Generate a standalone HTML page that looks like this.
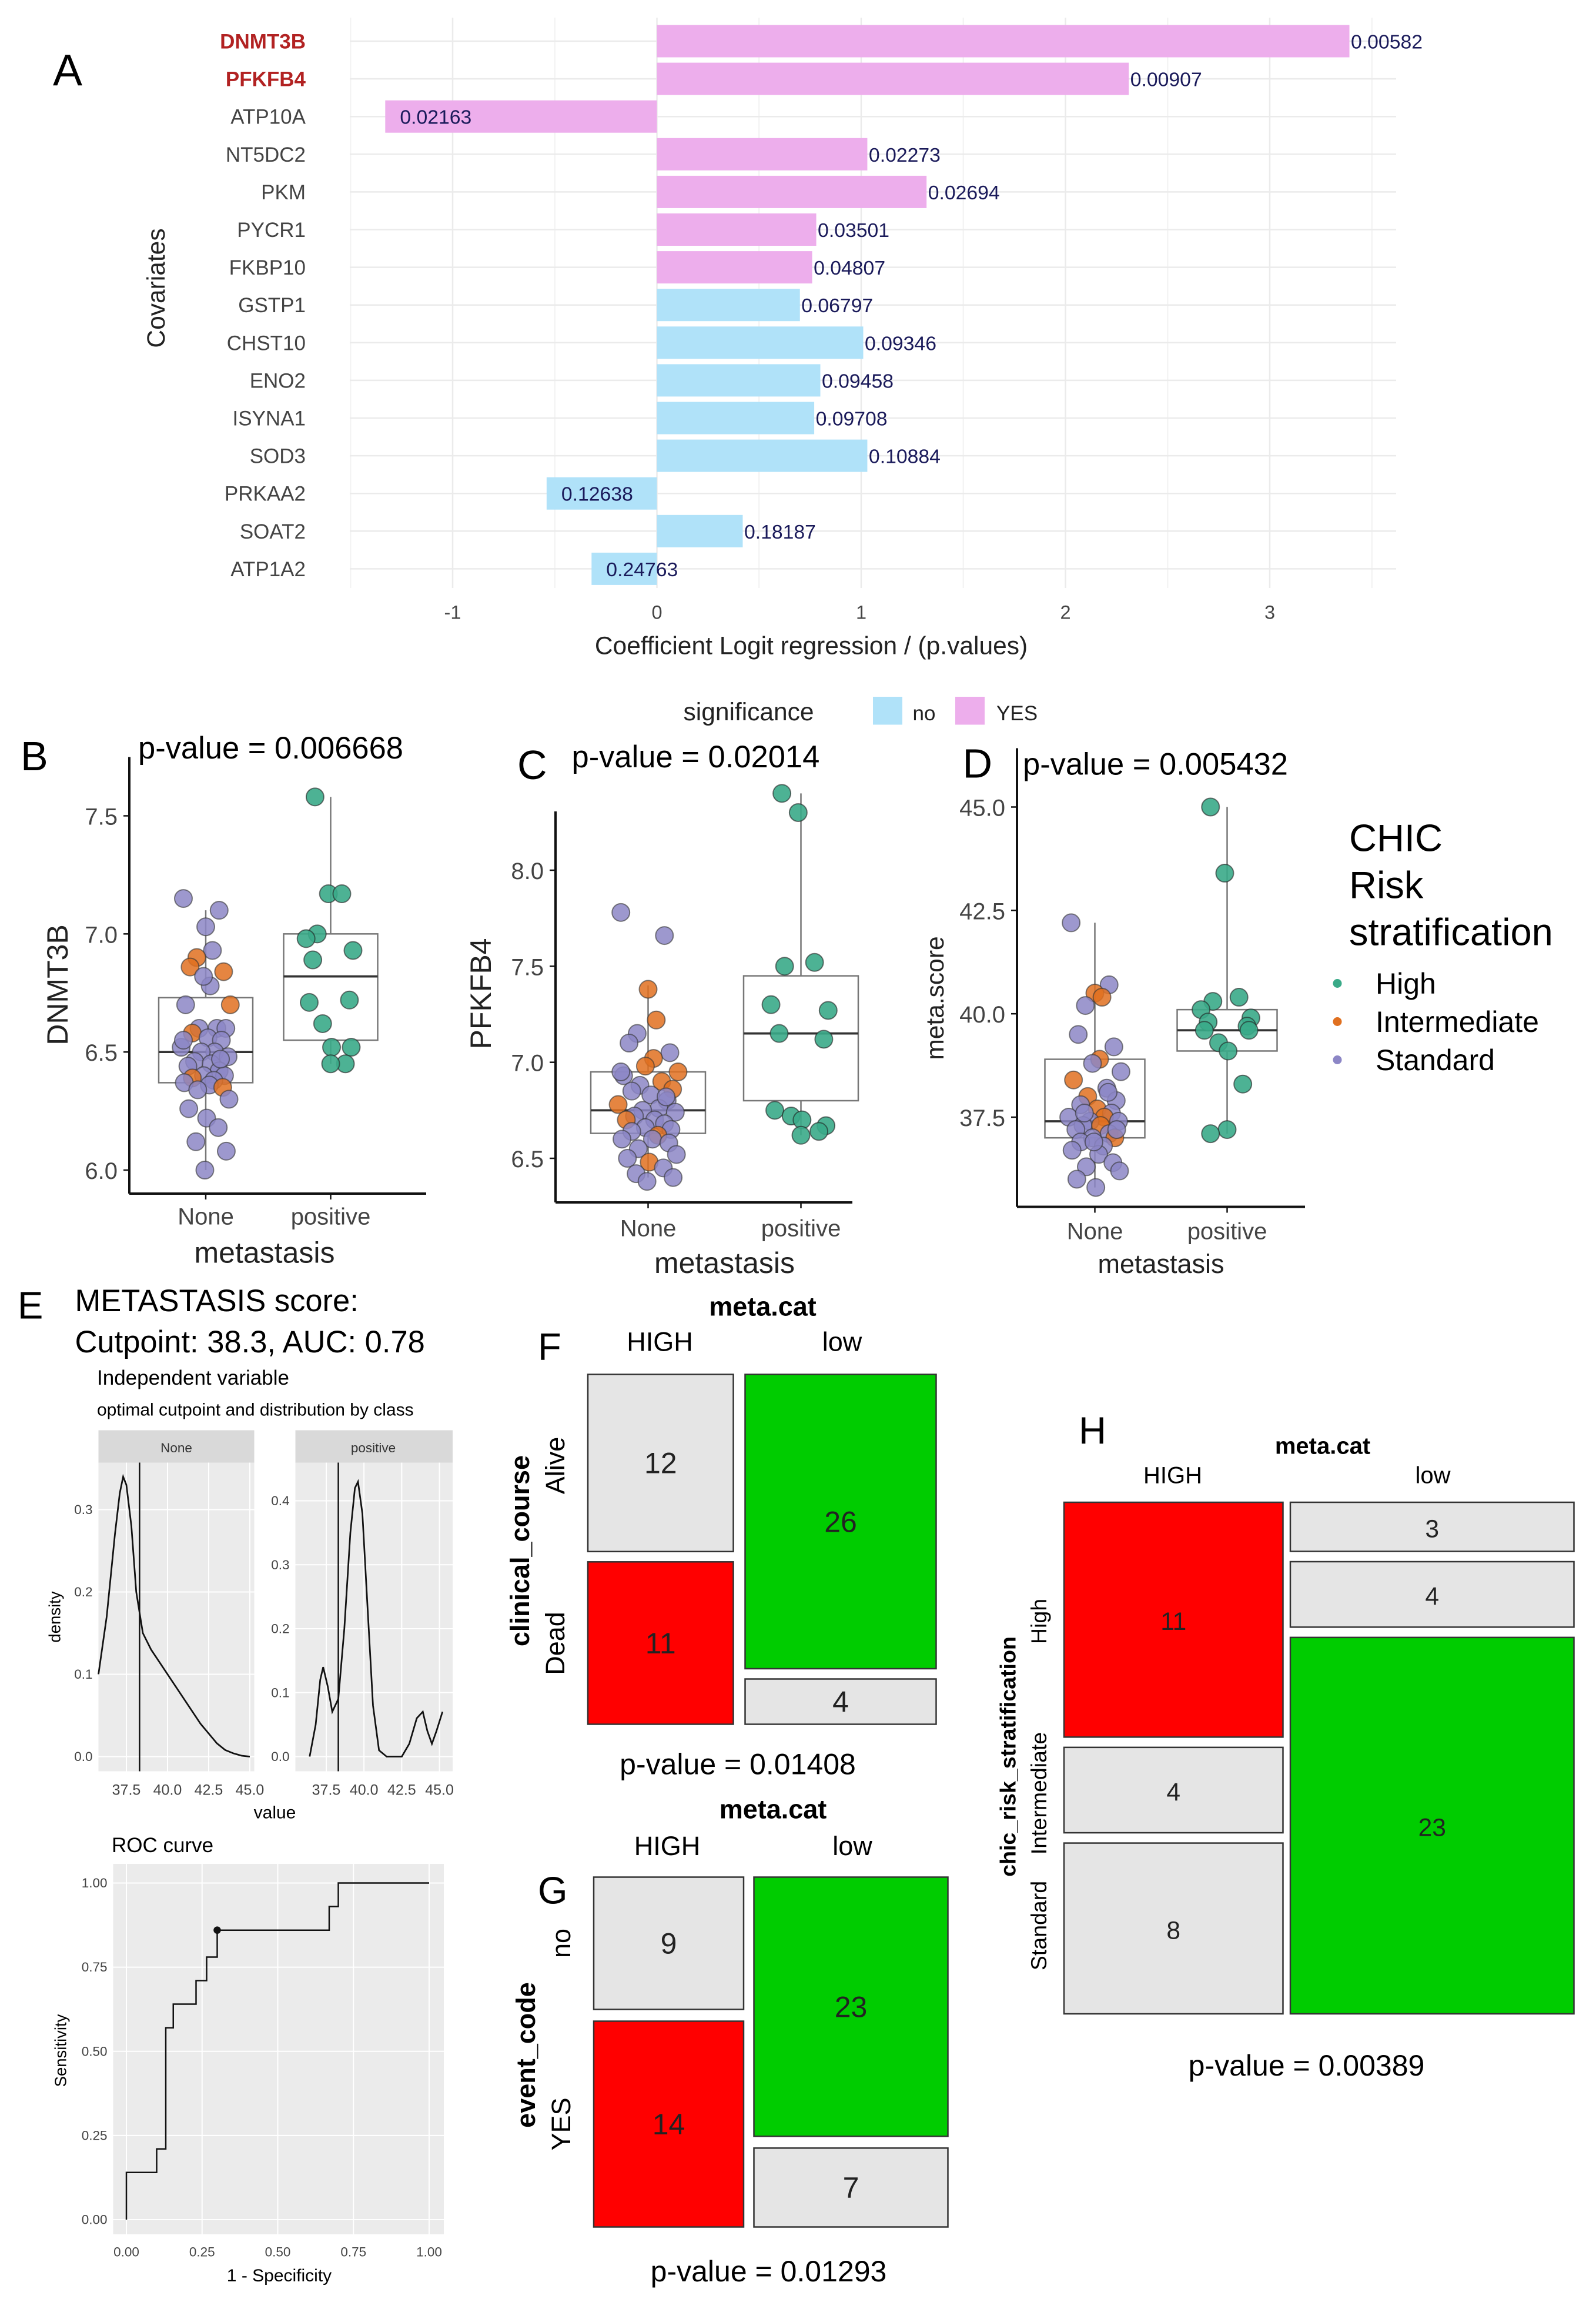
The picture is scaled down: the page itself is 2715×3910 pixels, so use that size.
<!DOCTYPE html>
<html><head><meta charset="utf-8"><style>
html,body{margin:0;padding:0;background:#fff}
svg{display:block;font-family:"Liberation Sans",Arial,sans-serif}
</style></head><body>
<svg id="fig" width="2715" height="3910" viewBox="0 0 1086 1564" preserveAspectRatio="none" xmlns="http://www.w3.org/2000/svg">
<rect x="0" y="0" width="1086" height="1564" fill="#fff"/>
<!-- Panel A static -->
<g id="panelA">
<text x="36" y="58" font-size="30">A</text>
<text x="0" y="0" font-size="17" fill="#222" transform="translate(112,196) rotate(-90)" text-anchor="middle">Covariates</text>
<text x="552" y="445" font-size="17" fill="#222" text-anchor="middle">Coefficient Logit regression / (p.values)</text>
<text x="465" y="490" font-size="17" fill="#222">significance</text>
<rect x="594" y="474" width="20" height="19" fill="#B0E2F9"/>
<text x="621" y="490" font-size="14" fill="#222">no</text>
<rect x="650" y="474" width="20" height="19" fill="#EDAEEC"/>
<text x="678" y="490" font-size="14" fill="#222">YES</text>
</g>
<g id="panelB">
<text x="14" y="524" font-size="28">B</text>
<text x="94" y="516" font-size="21">p-value = 0.006668</text>
<text transform="translate(46,670) rotate(-90)" font-size="20" fill="#222" text-anchor="middle">DNMT3B</text>
<text x="180" y="859" font-size="20" fill="#222" text-anchor="middle">metastasis</text>
</g>
<g id="panelC">
<text x="352" y="530" font-size="28">C</text>
<text x="389" y="522" font-size="21">p-value = 0.02014</text>
<text transform="translate(334,676) rotate(-90)" font-size="20" fill="#222" text-anchor="middle">PFKFB4</text>
<text x="493" y="866" font-size="20" fill="#222" text-anchor="middle">metastasis</text>
</g>
<g id="panelD">
<text x="655" y="529" font-size="28">D</text>
<text x="696" y="527" font-size="21">p-value = 0.005432</text>
<text transform="translate(642,679) rotate(-90)" font-size="17" fill="#222" text-anchor="middle">meta.score</text>
<text x="790" y="866" font-size="18" fill="#222" text-anchor="middle">metastasis</text>
<text x="918" y="579" font-size="26">CHIC</text>
<text x="918" y="611" font-size="26">Risk</text>
<text x="918" y="643" font-size="26">stratification</text>
<circle cx="910" cy="669" r="3" fill="#3AAA88"/>
<text x="936" y="676" font-size="20">High</text>
<circle cx="910" cy="695" r="3" fill="#E07020"/>
<text x="936" y="702" font-size="20">Intermediate</text>
<circle cx="910" cy="721" r="3" fill="#8C86C6"/>
<text x="936" y="728" font-size="20">Standard</text>
</g>
<g id="panelE">
<text x="12" y="897" font-size="26">E</text>
<text x="51" y="892" font-size="21">METASTASIS score:</text>
<text x="51" y="920" font-size="21">Cutpoint: 38.3, AUC: 0.78</text>
<text x="66" y="942" font-size="14">Independent variable</text>
<text x="66" y="963" font-size="12">optimal cutpoint and distribution by class</text>
<rect x="67" y="973" width="106" height="22" fill="#d9d9d9"/>
<text x="120" y="988" font-size="9" fill="#333" text-anchor="middle">None</text>
<rect x="201" y="973" width="107" height="22" fill="#d9d9d9"/>
<text x="254" y="988" font-size="9" fill="#333" text-anchor="middle">positive</text>
<rect x="67" y="995" width="106" height="210" fill="#ebebeb"/>
<rect x="201" y="995" width="107" height="210" fill="#ebebeb"/>
<text transform="translate(41,1100) rotate(-90)" font-size="11" text-anchor="middle">density</text>
<text x="187" y="1237" font-size="12" text-anchor="middle">value</text>
<text x="76" y="1260" font-size="14">ROC curve</text>
<rect x="77" y="1268" width="225" height="252" fill="#ebebeb"/>
<text transform="translate(45,1395) rotate(-90)" font-size="11" text-anchor="middle">Sensitivity</text>
<text x="190" y="1552" font-size="12" text-anchor="middle">1 - Specificity</text>
</g>
<g id="panelF">
<text x="366" y="925" font-size="26">F</text>
<text x="519" y="895" font-size="18" font-weight="bold" text-anchor="middle">meta.cat</text>
<text x="449" y="919" font-size="18" text-anchor="middle">HIGH</text>
<text x="573" y="919" font-size="18" text-anchor="middle">low</text>
<text transform="translate(384,997) rotate(-90)" font-size="18" text-anchor="middle">Alive</text>
<text transform="translate(384,1118) rotate(-90)" font-size="18" text-anchor="middle">Dead</text>
<text transform="translate(360,1055) rotate(-90)" font-size="18" font-weight="bold" text-anchor="middle">clinical_course</text>
<text x="502" y="1207" font-size="20" text-anchor="middle">p-value = 0.01408</text>
</g>
<g id="panelG">
<text x="366" y="1295" font-size="26">G</text>
<text x="526" y="1237" font-size="18" font-weight="bold" text-anchor="middle">meta.cat</text>
<text x="454" y="1262" font-size="18" text-anchor="middle">HIGH</text>
<text x="580" y="1262" font-size="18" text-anchor="middle">low</text>
<text transform="translate(388,1322) rotate(-90)" font-size="18" text-anchor="middle">no</text>
<text transform="translate(388,1445) rotate(-90)" font-size="18" text-anchor="middle">YES</text>
<text transform="translate(364,1398) rotate(-90)" font-size="18" font-weight="bold" text-anchor="middle">event_code</text>
<text x="523" y="1552" font-size="20" text-anchor="middle">p-value = 0.01293</text>
</g>
<g id="panelH">
<text x="734" y="982" font-size="26">H</text>
<text x="900" y="989" font-size="16" font-weight="bold" text-anchor="middle">meta.cat</text>
<text x="798" y="1009" font-size="16" text-anchor="middle">HIGH</text>
<text x="975" y="1009" font-size="16" text-anchor="middle">low</text>
<text transform="translate(712,1103) rotate(-90)" font-size="15" text-anchor="middle">High</text>
<text transform="translate(712,1220) rotate(-90)" font-size="15" text-anchor="middle">Intermediate</text>
<text transform="translate(712,1310) rotate(-90)" font-size="15" text-anchor="middle">Standard</text>
<text transform="translate(691,1195) rotate(-90)" font-size="15" font-weight="bold" text-anchor="middle">chic_risk_stratification</text>
<text x="889" y="1412" font-size="20" text-anchor="middle">p-value = 0.00389</text>
</g>
</svg>
<script>
// ---------- Panel A data ----------
var genes = ["DNMT3B","PFKFB4","ATP10A","NT5DC2","PKM","PYCR1","FKBP10","GSTP1","CHST10","ENO2","ISYNA1","SOD3","PRKAA2","SOAT2","ATP1A2"];
var coefs = [3.39,2.31,-1.33,1.03,1.32,0.78,0.76,0.70,1.01,0.80,0.77,1.03,-0.54,0.42,-0.32];
var pvals = ["0.00582","0.00907","0.02163","0.02273","0.02694","0.03501","0.04807","0.06797","0.09346","0.09458","0.09708","0.10884","0.12638","0.18187","0.24763"];
var signif = [1,1,1,1,1,1,1,0,0,0,0,0,0,0,0];
var aTicks = [-1,0,1,2,3];

// ---------- Boxplot data ----------
var bNoneVals = [7.15,7.1,7.03,6.93,6.9,6.86,6.84,6.78,6.82,6.7,6.7,6.6,6.6,6.6,6.58,6.56,6.55,6.52,6.5,6.5,6.48,6.46,6.45,6.44,6.42,6.4,6.4,6.39,6.38,6.37,6.36,6.35,6.34,6.3,6.26,6.22,6.18,6.12,6.08,6.0,6.55,6.47];
var bNoneGrp  = ["S","S","S","S","I","I","I","S","S","I","S","S","S","S","I","S","S","S","S","S","S","S","S","S","S","S","S","I","S","S","S","I","S","S","S","S","S","S","S","S","S","S"];
var bPosVals = [7.58,7.17,7.17,7.0,6.98,6.93,6.89,6.72,6.71,6.62,6.52,6.52,6.45,6.45];
var bNoneBox = [6.0,6.37,6.5,6.73,7.1];
var bPosBox = [6.45,6.55,6.82,7.0,7.58];
var bTicks = [6.0,6.5,7.0,7.5];

var cNoneVals = [7.78,7.66,7.38,7.22,7.15,7.1,7.05,7.02,6.98,6.95,6.93,6.9,6.88,6.86,6.85,6.83,6.8,6.78,6.76,6.75,6.74,6.72,6.7,6.7,6.68,6.66,6.65,6.64,6.62,6.6,6.6,6.58,6.55,6.52,6.5,6.48,6.45,6.42,6.4,6.38,6.95,6.82];
var cNoneGrp  = ["S","S","I","I","S","S","S","I","I","I","S","I","S","I","S","S","S","I","S","S","S","S","S","I","S","S","S","S","I","S","S","S","S","S","S","I","S","S","S","S","S","S"];
var cPosVals = [8.4,8.3,7.52,7.5,7.3,7.27,7.15,7.12,6.75,6.72,6.7,6.67,6.64,6.62];
var cNoneBox = [6.4,6.63,6.75,6.95,7.4];
var cPosBox = [6.62,6.8,7.15,7.45,8.4];
var cTicks = [6.5,7.0,7.5,8.0];

var dNoneVals = [42.2,40.7,40.5,40.4,40.2,39.5,39.2,38.9,38.8,38.6,38.4,38.2,38.0,37.9,37.8,37.7,37.6,37.5,37.5,37.4,37.4,37.3,37.3,37.2,37.1,37.0,37.0,36.9,36.8,36.7,36.6,36.4,36.3,36.2,36.0,35.8,38.1,37.6,37.2,36.9];
var dNoneGrp  = ["S","S","I","I","S","S","S","I","S","S","I","S","I","S","S","I","S","S","I","S","S","S","I","S","S","S","I","S","S","S","S","S","S","S","S","S","S","S","S","S"];
var dPosVals = [45.0,43.4,40.4,40.3,40.1,39.9,39.8,39.7,39.6,39.3,39.1,39.6,38.3,37.2,37.1];
var dNoneBox = [35.8,37.0,37.4,38.9,42.2];
var dPosBox = [37.1,39.1,39.6,40.1,45.0];
var dTicks = [37.5,40.0,42.5,45.0];

// jitter offsets (fraction of category half-width)
var jit = [-0.5,0.3,0.0,0.15,-0.2,-0.35,0.4,0.1,-0.05,0.55,-0.45,0.25,-0.15,0.45,-0.3,0.05,0.35,-0.55,0.2,-0.1,0.5,-0.25,0.12,-0.4,0.3,-0.05,0.42,-0.3,0.18,-0.48,0.08,0.38,-0.18,0.52,-0.38,0.02,0.28,-0.22,0.46,-0.02,-0.5,0.33];

// ---------- Density / ROC data ----------
var densNoneX = [35.8,36.3,36.8,37.1,37.3,37.5,37.8,38.1,38.5,39.0,39.5,40.0,40.5,41.0,41.5,42.0,42.5,43.0,43.5,44.0,44.5,45.0];
var densNoneY = [0.10,0.17,0.27,0.32,0.34,0.33,0.28,0.20,0.15,0.13,0.115,0.10,0.085,0.07,0.055,0.04,0.028,0.016,0.008,0.004,0.001,0.0];
var densPosX = [36.4,36.8,37.1,37.3,37.6,37.9,38.3,38.7,39.1,39.4,39.6,39.9,40.2,40.6,41.0,41.5,42.0,42.5,43.0,43.5,43.9,44.2,44.5,44.8,45.2];
var densPosY = [0.0,0.05,0.12,0.14,0.11,0.07,0.09,0.2,0.35,0.42,0.43,0.38,0.25,0.08,0.01,0.0,0.0,0.0,0.02,0.06,0.07,0.04,0.02,0.04,0.07];
var densTicksX = [37.5,40.0,42.5,45.0];
var densNoneTicksY = [0.0,0.1,0.2,0.3];
var densPosTicksY = [0.0,0.1,0.2,0.3,0.4];
var cutpoint = 38.3;
var rocFpr = [0,0,0.10,0.10,0.13,0.13,0.155,0.155,0.23,0.23,0.265,0.265,0.30,0.30,0.67,0.67,0.70,0.70,1.0];
var rocTpr = [0,0.14,0.14,0.21,0.21,0.57,0.57,0.64,0.64,0.71,0.71,0.78,0.78,0.86,0.86,0.93,0.93,1.0,1.0];
var rocOpt = [0.30,0.86];
var rocTicks = [0,0.25,0.5,0.75,1.0];

// ---------- Mosaic data ----------
var fCounts = [12,11,26,4];
var gCounts = [9,14,23,7];
var hCounts = [11,4,8,3,4,23];

var NS = "http://www.w3.org/2000/svg";
var svg = document.getElementById('fig');
function mk(tag, at, par){var e=document.createElementNS(NS,tag);for(var k in at)e.setAttribute(k,at[k]);(par||svg).appendChild(e);return e;}
var COL = {S:"#8C86C6",I:"#E07020",H:"#3AAA88"};

// ---------- Panel A ----------
(function(){
  var gA = document.getElementById('panelA');
  var x0=447, ux=139, yTop=28, step=25.64, bh=22;
  function X(v){return x0+v*ux;}
  function Y(i){return yTop+i*step;}
  // grid
  for(var v=-1.5; v<=3.5; v+=0.5){
    var gl=mk('line',{x1:X(v),x2:X(v),y1:12,y2:400,stroke:(v%1===0)?"#ebebeb":"#f4f4f4","stroke-width":1},gA);
    
    
  }
  for(var i=0;i<genes.length;i++){
    var hl=mk('line',{x1:238,x2:950,y1:Y(i),y2:Y(i),stroke:"#ebebeb","stroke-width":1},gA);
    
    
  }
  for(var i=0;i<genes.length;i++){
    var v=coefs[i];
    var r=mk('rect',{x:Math.min(X(0),X(v)),y:Y(i)-bh/2,width:Math.abs(X(v)-X(0)),height:bh,fill:signif[i]?"#EDAEEC":"#B0E2F9"},gA);
    
    
    var tx = v>=0 ? X(v)+1 : X(v)+10;
    var t=mk('text',{x:tx,y:Y(i)+5,"font-size":13.5,fill:"#1a1a5a"},gA);
    t.textContent=pvals[i];
    
    
    var gl2=mk('text',{x:208,y:Y(i)+5,"font-size":14,"text-anchor":"end",fill:i<2?"#B22222":"#444","font-weight":i<2?"bold":"normal"},gA);
    gl2.textContent=genes[i];
    
    
  }
  for(var k=0;k<aTicks.length;k++){
    var tt=mk('text',{x:X(aTicks[k]),y:421,"font-size":13,"text-anchor":"middle",fill:"#444"},gA);
    tt.textContent=aTicks[k];
    
    
  }
})();

// ---------- Boxplots ----------
function boxPanel(gid, ax, bottom, xr, ticks, y0v, y0p, y1v, y1p, cxN, cxP, half, noneV, noneG, posV, noneBox, posBox, tickX, catY){
  var g=document.getElementById(gid);
  function Y(v){return y0p+(v-y0v)*(y1p-y0p)/(y1v-y0v);}
  var al=mk('line',{x1:ax,x2:ax,y1:Y(ticks[ticks.length-1])-40,y2:bottom,stroke:"#111","stroke-width":1.6},g);
  
  
  var bl=mk('line',{x1:ax,x2:xr,y1:bottom,y2:bottom,stroke:"#111","stroke-width":1.6},g);
  
  
  for(var k=0;k<ticks.length;k++){
    var tl=mk('text',{x:tickX,y:Y(ticks[k])+6,"font-size":16,"text-anchor":"end",fill:"#444"},g);
    tl.textContent=ticks[k].toFixed(1);
    
    
    var tm=mk('line',{x1:ax-4,x2:ax,y1:Y(ticks[k]),y2:Y(ticks[k]),stroke:"#111"},g);
    
    
  }
  [[cxN,"None",noneBox],[cxP,"positive",posBox]].forEach(function(c){
    var tm=mk('line',{x1:c[0],x2:c[0],y1:bottom,y2:bottom+4,stroke:"#111"},g);
    
    
    var tl=mk('text',{x:c[0],y:catY,"font-size":16,"text-anchor":"middle",fill:"#444"},g);
    tl.textContent=c[1];
    
    
    var b=c[2];
    var w=mk('line',{x1:c[0],x2:c[0],y1:Y(b[0]),y2:Y(b[4]),stroke:"#777","stroke-width":1},g);
    
    
    var r=mk('rect',{x:c[0]-half,y:Y(b[3]),width:2*half,height:Y(b[1])-Y(b[3]),fill:"#fff",stroke:"#777","stroke-width":1},g);
    
    
    var m=mk('line',{x1:c[0]-half,x2:c[0]+half,y1:Y(b[2]),y2:Y(b[2]),stroke:"#333","stroke-width":1.5},g);
    
    
  });
  for(var i=0;i<noneV.length;i++){
    var p=mk('circle',{cx:cxN+jit[i%jit.length]*half*0.95,cy:Y(noneV[i]),r:6,fill:COL[noneG[i]],"fill-opacity":0.85,stroke:"#333","stroke-opacity":0.6,"stroke-width":0.8},g);
    
    
  }
  for(var i=0;i<posV.length;i++){
    var p=mk('circle',{cx:cxP+jit[(i*3+5)%jit.length]*half*0.95,cy:Y(posV[i]),r:6,fill:COL.H,"fill-opacity":0.9,stroke:"#222","stroke-opacity":0.6,"stroke-width":0.8},g);
    
    
  }
}
boxPanel('panelB',88,812,290,bTicks,6.0,796,7.5,555,140,225,32,bNoneVals,bNoneGrp,bPosVals,bNoneBox,bPosBox,80,833);
boxPanel('panelC',378,818,580,cTicks,6.5,788,8.0,592,441,545,39,cNoneVals,cNoneGrp,cPosVals,cNoneBox,cPosBox,370,841);
boxPanel('panelD',692,821,888,dTicks,37.5,760,45.0,549,745,835,34,dNoneVals,dNoneGrp,dPosVals,dNoneBox,dPosBox,684,843);

// ---------- Density ----------
function density(gx0, gxv0, pxPerX, y0, pxPerY, xs, ys, ticksY, panelX0, panelX1){
  var g=document.getElementById('panelE');
  function X(v){return gx0+(v-gxv0)*pxPerX;}
  function Y(v){return y0-v*pxPerY;}
  for(var k=0;k<densTicksX.length;k++){
    var gl=mk('line',{x1:X(densTicksX[k]),x2:X(densTicksX[k]),y1:995,y2:1205,stroke:"#fff","stroke-width":0.8},g);
    
    
    var t=mk('text',{x:X(densTicksX[k]),y:1221,"font-size":10,"text-anchor":"middle",fill:"#444"},g);
    t.textContent=densTicksX[k].toFixed(1);
    
    
  }
  for(var k=0;k<ticksY.length;k++){
    var gl=mk('line',{x1:panelX0,x2:panelX1,y1:Y(ticksY[k]),y2:Y(ticksY[k]),stroke:"#fff","stroke-width":0.8},g);
    
    
    var t=mk('text',{x:panelX0-4,y:Y(ticksY[k])+3,"font-size":9,"text-anchor":"end",fill:"#444"},g);
    t.textContent=ticksY[k].toFixed(1);
    
    
  }
  var d="";
  for(var i=0;i<xs.length;i++) d+=(i?"L":"M")+X(xs[i]).toFixed(1)+","+Y(ys[i]).toFixed(1);
  var p=mk('path',{d:d,fill:"none",stroke:"#111","stroke-width":1.1},g);
  
  
  var c=mk('line',{x1:X(cutpoint),x2:X(cutpoint),y1:995,y2:1205,stroke:"#111","stroke-width":1},g);
  
  
}
density(86,37.5,11.2,1195,560,densNoneX,densNoneY,densNoneTicksY,67,173);
density(222,37.5,10.27,1195,435,densPosX,densPosY,densPosTicksY,201,308);

// ---------- ROC ----------
(function(){
  var g=document.getElementById('panelE');
  function X(v){return 86+v*206;}
  function Y(v){return 1510-v*229;}
  for(var k=0;k<rocTicks.length;k++){
    var a=mk('line',{x1:X(rocTicks[k]),x2:X(rocTicks[k]),y1:1268,y2:1520,stroke:"#fff","stroke-width":0.8},g);
    
    
    var b=mk('line',{x1:77,x2:302,y1:Y(rocTicks[k]),y2:Y(rocTicks[k]),stroke:"#fff","stroke-width":0.8},g);
    
    
    var t=mk('text',{x:X(rocTicks[k]),y:1535,"font-size":9,"text-anchor":"middle",fill:"#444"},g);
    t.textContent=rocTicks[k].toFixed(2);
    
    
    var t2=mk('text',{x:73,y:Y(rocTicks[k])+3,"font-size":9,"text-anchor":"end",fill:"#444"},g);
    t2.textContent=rocTicks[k].toFixed(2);
    
    
  }
  var d="";
  for(var i=0;i<rocFpr.length;i++) d+=(i?"L":"M")+X(rocFpr[i]).toFixed(1)+","+Y(rocTpr[i]).toFixed(1);
  var p=mk('path',{d:d,fill:"none",stroke:"#111","stroke-width":1},g);
  
  
  var c=mk('circle',{cx:X(rocOpt[0]),cy:Y(rocOpt[1]),r:2.5,fill:"#111"},g);
  
  
})();

// ---------- Mosaics ----------
function mosaic(gid, cols, counts, colors, names){
  var g=document.getElementById(gid);
  var idx=0;
  cols.forEach(function(col){
    var tot=0; col.rows.forEach(function(r){tot+=counts[r];});
    var avail=col.y1-col.y0-col.gap*(col.rows.length-1);
    var y=col.y0;
    col.rows.forEach(function(r){
      var h=avail*counts[r]/tot;
      var rc=mk('rect',{x:col.x0,y:y,width:col.x1-col.x0,height:h,fill:colors[r],stroke:"#333","stroke-width":1},g);
      
      
      var t=mk('text',{x:(col.x0+col.x1)/2,y:y+h/2+7,"font-size":col.fs,"text-anchor":"middle",fill:"#222"},g);
      t.textContent=counts[r];
      
      
      y+=h+col.gap;
    });
  });
}
var GR="#e5e5e5", RD="#ff0000", GN="#00cc00";
mosaic('panelF',[{x0:400,x1:499,y0:935,y1:1173,gap:7,rows:[0,1],fs:20},{x0:507,x1:637,y0:935,y1:1173,gap:7,rows:[2,3],fs:20}],fCounts,[GR,RD,GN,GR],["cell-high-alive","cell-high-dead","cell-low-alive","cell-low-dead"]);
mosaic('panelG',[{x0:404,x1:506,y0:1277,y1:1515,gap:8,rows:[0,1],fs:20},{x0:513,x1:645,y0:1277,y1:1515,gap:8,rows:[2,3],fs:20}],gCounts,[GR,RD,GN,GR],["cell-high-no","cell-high-yes","cell-low-no","cell-low-yes"]);
mosaic('panelH',[{x0:724,x1:873,y0:1022,y1:1370,gap:7,rows:[0,1,2],fs:17},{x0:878,x1:1071,y0:1022,y1:1370,gap:7,rows:[3,4,5],fs:17}],hCounts,[RD,GR,GR,GR,GR,GN],["cell-high-high","cell-high-intermediate","cell-high-standard","cell-low-high","cell-low-intermediate","cell-low-standard"]);
</script>
</body></html>
